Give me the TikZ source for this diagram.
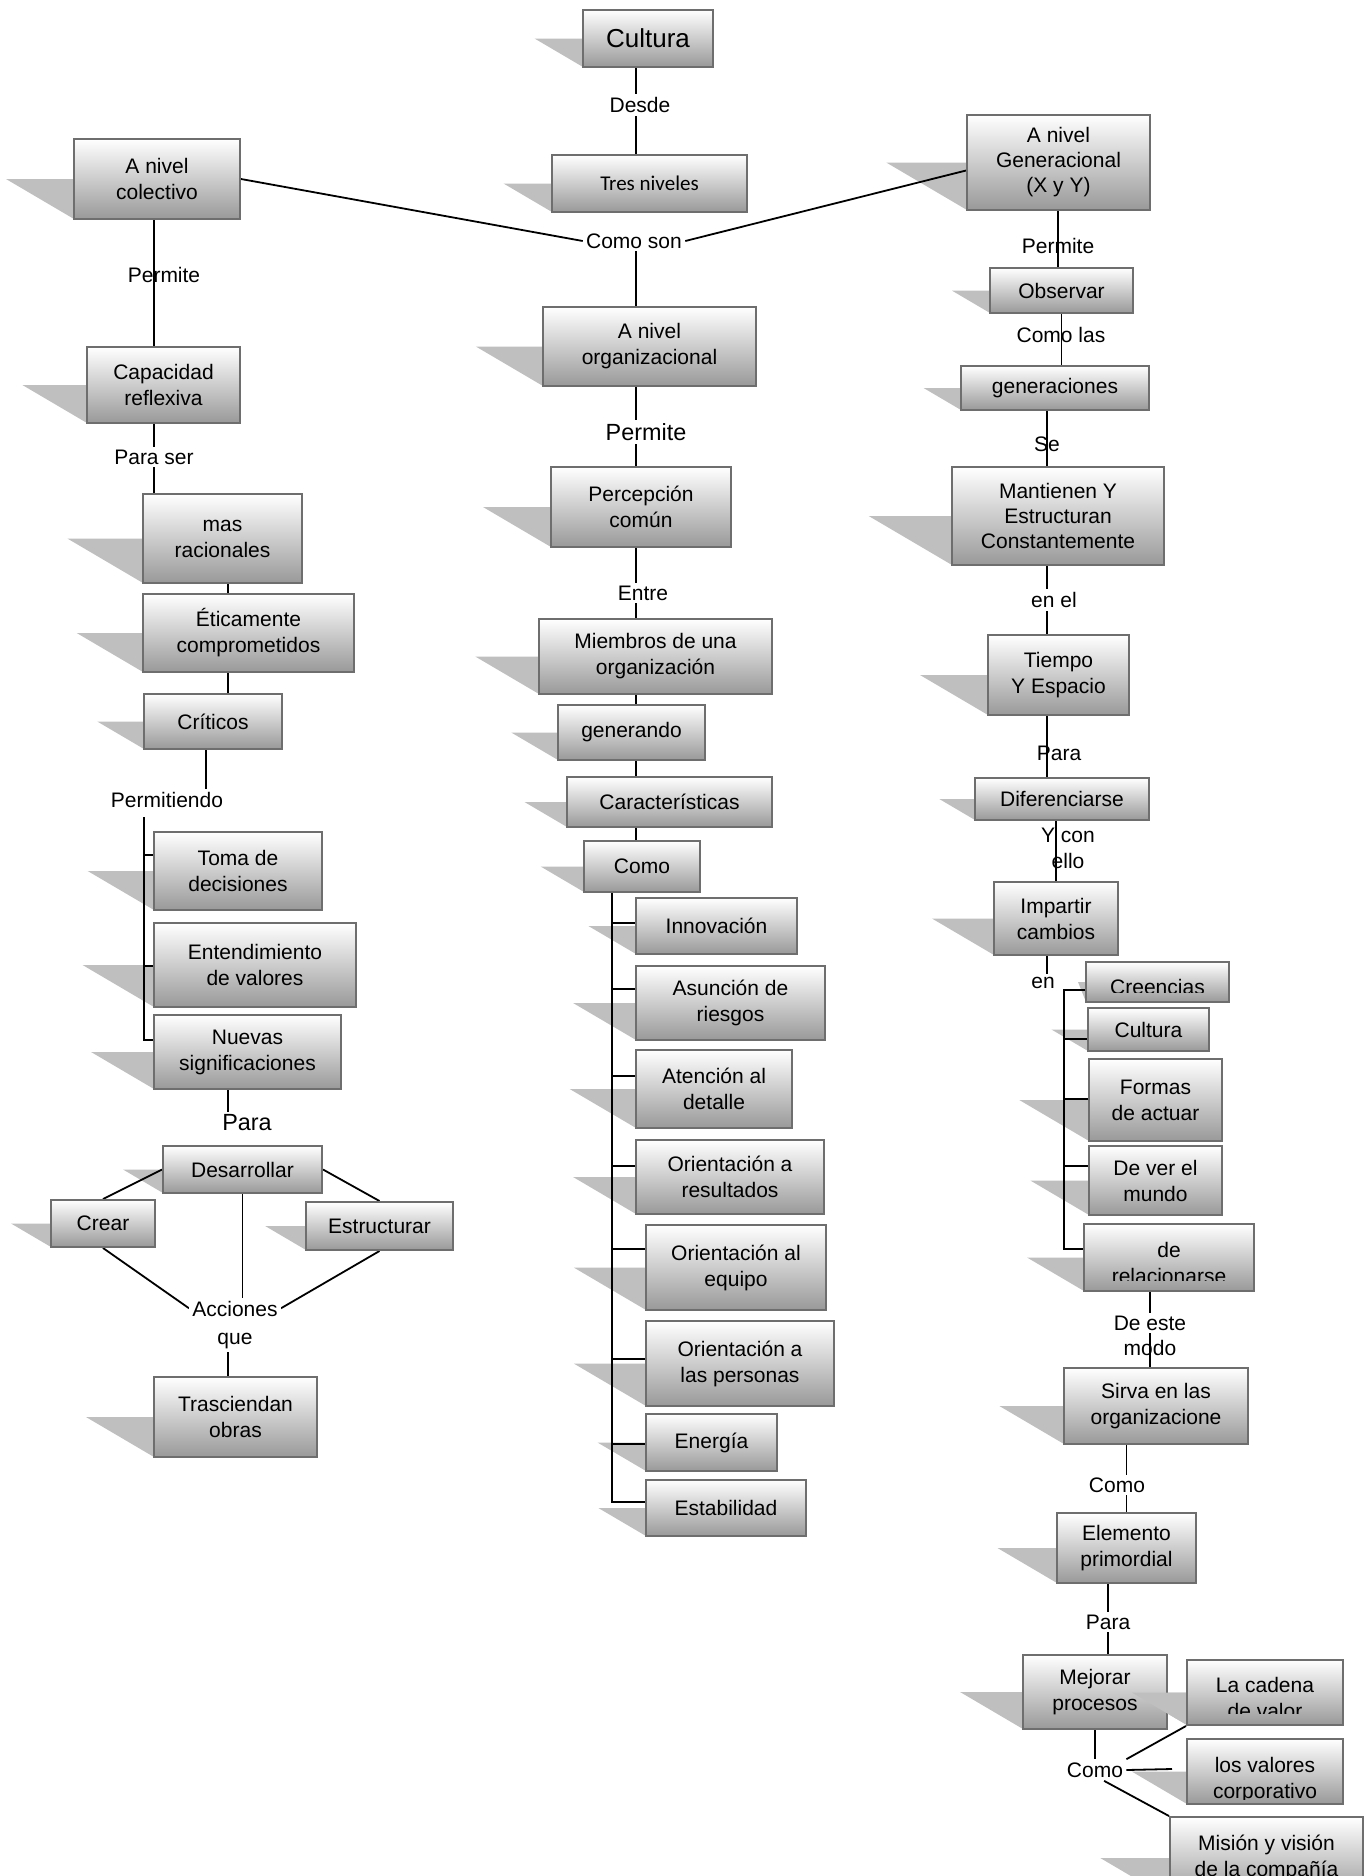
\documentclass[tikz,border=0pt]{standalone}
\usepackage{fontspec}
\setmainfont{Liberation Sans}
\newfontfamily\calfont{Carlito}
\pgfdeclarelayer{shd}
\pgfdeclarelayer{con}
\pgfsetlayers{shd,con,main}
\tikzset{
  box/.style={draw=black!57, line width=1pt, top color=white, bottom color=black!40,
    inner sep=1pt, align=center, font=\fontsize{10.5}{13}\selectfont, text=black},
  lbl/.style={inner sep=1.5pt, align=center, font=\fontsize{10.5}{13}\selectfont},
  lblw/.style={lbl, fill=white},
  con/.style={line width=0.9pt, black},
  shadowc/.style={fill=black!25},
}
\def\shfac{1.7}
% opts, name, x1, y1, x2, y2, text
\newcommand\bx[7]{%
  \begin{pgfonlayer}{shd}
  \fill[shadowc] (#3,{(#4+#6)/2}) -- (#3,#6) -- ({#3-\shfac*(#6-#4)/2},{(#4+#6)/2}) -- cycle;
  \end{pgfonlayer}
  \node[box,#1,minimum width={(#5-#3)*0.5pt},minimum height={(#6-#4)*0.5pt}] (#2) at ({(#3+#5)/2},{(#4+#6)/2}) {#7};}
% name, x1, y1, x2, y2, text, text shift, clip raise
\newcommand\cbx[8]{%
  \bx{}{#1}{#2}{#3}{#4}{#5}{}
  \begin{scope}
  \clip (#2,#3) rectangle (#4,{#5-#8});
  \node[lbl, inner sep=0pt] (#1-t) at ({(#2+#4)/2},{(#3+#5)/2+#7}) {#6};
  \end{scope}}
\begin{document}
\begin{tikzpicture}[x=0.5pt,y=-0.5pt]
\useasboundingbox (0,0) rectangle (1370,1876);
% ---------- center column
\bx{font=\fontsize{13}{15}\selectfont}{cultura}{583}{10}{713}{67}{Cultura}
\bx{font=\calfont\fontsize{10.5}{13}\selectfont}{tres}{552}{155}{747}{212}{Tres niveles}
\bx{}{org}{543}{307}{756}{386}{A nivel\\organizacional}
\bx{}{perc}{551}{467}{731}{547}{Percepción\\común}
\bx{}{miem}{539}{619}{772}{694}{Miembros de una\\organización}
\bx{}{gen}{558}{705}{705}{760}{generando}
\bx{}{car}{567}{777}{772}{827}{Características}
\bx{}{como}{584}{841}{700}{892}{Como}
\bx{}{innov}{636}{898}{797}{954}{Innovación}
\bx{}{asun}{636}{966}{825}{1040}{Asunción de\\riesgos}
\bx{}{aten}{636}{1050}{792}{1128}{Atención al\\detalle}
\bx{}{ores}{636}{1140}{824}{1214}{Orientación a\\resultados}
\bx{}{oeq}{646}{1225}{826}{1310}{Orientación al\\equipo}
\bx{}{oper}{646}{1321}{834}{1406}{Orientación a\\las personas}
\bx{}{ener}{646}{1414}{777}{1471}{Energía}
\bx{}{estab}{646}{1480}{806}{1536}{Estabilidad}
% ---------- left column
\bx{}{colec}{74}{139}{240}{219}{A nivel\\colectivo}
\bx{}{capac}{87}{347}{240}{423}{Capacidad\\reflexiva}
\bx{}{mas}{143}{494}{302}{583}{mas\\racionales}
\bx{}{etic}{143}{594}{354}{672}{Éticamente\\comprometidos}
\bx{}{crit}{144}{694}{282}{749}{Críticos}
\bx{}{toma}{154}{832}{322}{910}{Toma de\\decisiones}
\bx{}{ente}{154}{923}{356}{1007}{Entendimiento\\de valores}
\bx{}{nuev}{154}{1015}{341}{1089}{Nuevas\\significaciones}
\bx{}{desa}{163}{1146}{322}{1193}{Desarrollar}
\bx{}{crear}{51}{1200}{155}{1247}{Crear}
\bx{}{estr}{306}{1202}{453}{1250}{Estructurar}
\bx{}{tras}{154}{1377}{317}{1457}{Trasciendan\\obras}
% ---------- right column
\bx{font=\fontsize{10.5}{12.5}\selectfont}{genr}{967}{115}{1150}{210}{A nivel\\Generacional\\(X y Y)}
\bx{}{obs}{990}{268}{1133}{313}{Observar}
\bx{}{gene}{961}{366}{1149}{410}{generaciones}
\bx{font=\fontsize{10.5}{12.5}\selectfont}{mant}{952}{467}{1164}{565}{Mantienen Y\\Estructuran\\Constantemente}
\bx{}{tiem}{988}{635}{1129}{715}{Tiempo\\Y Espacio}
\bx{}{dife}{975}{778}{1149}{820}{Diferenciarse}
\bx{}{impa}{994}{882}{1118}{955}{Impartir\\cambios}
\def\shfac{0.4}
\cbx{cree}{1086}{962}{1229}{1002}{Creencias}{5}{10}
\def\shfac{1.7}
\bx{}{cult}{1088}{1008}{1209}{1051}{Cultura}
\bx{}{form}{1089}{1059}{1222}{1141}{Formas\\de actuar}
\bx{}{dever}{1089}{1146}{1222}{1215}{De ver el\\mundo}
\cbx{rela}{1084}{1224}{1254}{1291}{de\\relacionarse}{5}{11}
\bx{}{sirv}{1064}{1368}{1248}{1444}{Sirva en las\\organizacione}
\bx{}{elem}{1057}{1513}{1196}{1583}{Elemento\\primordial}
\bx{}{mejo}{1023}{1655}{1167}{1729}{Mejorar\\procesos}
\cbx{cade}{1187}{1660}{1343}{1725}{La cadena\\de valor}{5}{12}
\fill[shadowc] (1187,1692.5) -- (1187,1725) -- ({1187-1.7*32.5},1692.5) -- cycle;
\draw[draw=black!57, line width=1pt] (1187,1660) rectangle (1343,1725);
\cbx{valo}{1187}{1739}{1343}{1804}{los valores\\corporativo}{9}{5}
\bx{}{misi}{1170}{1817}{1363}{1899}{Misión y visión\\de la compañía}
% ---------- labels
\node[lblw] (desde) at (640,105) {Desde};
\node[lblw] (comoson) at (634,241) {Como son};
\node[lblw,font=\fontsize{11.7}{14}\selectfont] (permc) at (646,432) {Permite};
\node[lblw] (entre) at (643,593) {Entre};
\node[lbl] (perml) at (164,275) {Permite};
\node[lblw] (paraser) at (154,457) {Para ser};
\node[lblw] (permit) at (167,800) {Permitiendo};
\node[lblw,font=\fontsize{11.7}{14}\selectfont] (paral) at (247,1123) {Para};
\node[lblw,font=\fontsize{10.5}{14}\selectfont] (acci) at (235,1325) {Acciones\\que};
\node[lbl] (permr) at (1058,246) {Permite};
\node[lbl] (comolas) at (1061,335) {Como las};
\node[lbl] (se) at (1047,444) {Se};
\node[lblw] (enel) at (1054,600) {en el};
\node[lbl] (parar) at (1059,753) {Para};
\node[lbl] (ycon) at (1068,848) {Y con\\ello};
\node[lblw] (en) at (1043,983) {en};
\node[lblw] (deeste) at (1150,1323) {De este};
\node[lbl] (modo) at (1150,1348) {modo};
\node[lblw] (comor) at (1117,1485) {Como};
\node[lblw] (parab) at (1108,1622) {Para};
\node[lblw] (comob) at (1095,1770) {Como};
% ---------- helper coordinates
\coordinate (cx) at (636,0);
\coordinate (lx) at (228,0);
\coordinate (lx3) at (206,0);
\coordinate (ctr) at (612,892);
\coordinate (cb1) at (612,923);
\coordinate (cb2) at (612,989);
\coordinate (cb3) at (612,1076);
\coordinate (cb4) at (612,1166);
\coordinate (cb5) at (612,1249);
\coordinate (cb6) at (612,1359);
\coordinate (cb7) at (612,1444);
\coordinate (cb8) at (612,1502);
\coordinate (ltr) at (144,817);
\coordinate (lb1) at (144,855);
\coordinate (lb2) at (144,966);
\coordinate (lb3) at (144,1040);
\coordinate (rt1) at (1064,990);
\coordinate (rt2) at (1064,1039);
\coordinate (rt3) at (1064,1099);
\coordinate (rt4) at (1064,1166);
\coordinate (rt5) at (1064,1249);
\coordinate (vend) at (1172,1769);
% ---------- connectors
\begin{pgfonlayer}{con}
\draw[con] (cx |- cultura.south) -- (cx |- tres.north);
\draw[con] (colec.east) -- (comoson.west);
\draw[con] (comoson.east) -- ([yshift=-4pt]genr.west);
\draw[con] (cx |- comoson) -- (cx |- org.north);
\draw[con] (cx |- org.south) -- (cx |- perc.north);
\draw[con] (cx |- perc.south) -- (cx |- miem.north);
\draw[con] (cx |- miem.south) -- (cx |- gen.north);
\draw[con] (cx |- gen.south) -- (cx |- car.north);
\draw[con] (cx |- car.south) -- (cx |- como.north);
\draw[con] (ctr) -- (cb8) -- (estab.west |- cb8);
\draw[con] (cb1) -- (innov.west |- cb1);
\draw[con] (cb2) -- (asun.west |- cb2);
\draw[con] (cb3) -- (aten.west |- cb3);
\draw[con] (cb4) -- (ores.west |- cb4);
\draw[con] (cb5) -- (oeq.west |- cb5);
\draw[con] (cb6) -- (oper.west |- cb6);
\draw[con] (cb7) -- (ener.west |- cb7);
% left
\draw[con] (paraser |- colec.south) -- (paraser |- capac.north);
\draw[con] (paraser |- capac.south) -- (paraser |- mas.north);
\draw[con] (lx |- mas.south) -- (lx |- etic.north);
\draw[con] (lx |- etic.south) -- (lx |- crit.north);
\draw[con] (lx3 |- crit.south) -- (lx3 |- permit);
\draw[con] (ltr) -- (lb3) -- (nuev.west |- lb3);
\draw[con] (lb1) -- (toma.west |- lb1);
\draw[con] (lb2) -- (ente.west |- lb2);
\draw[con] (lx |- nuev.south) -- (lx |- paral);
\draw[con] (desa.west) -- (crear.north);
\draw[con] (desa.east) -- (estr.north);
\draw[con] (crear.south) -- (acci.160);
\draw[con] (estr.south) -- (acci.20);
\draw[con] (desa.south) -- (desa.south |- acci.north);
\draw[con] (lx |- acci) -- (lx |- tras.north);
% right
\draw[con] (permr |- genr.south) -- (permr |- obs.north);
\draw[con] (obs.south) -- (obs.south |- gene.north);
\draw[con] (se |- gene.south) -- (se |- mant.north);
\draw[con] (se |- mant.south) -- (se |- tiem.north);
\draw[con] (se |- tiem.south) -- (se |- dife.north);
\draw[con] (impa.north) -- (impa.north |- dife.south);
\draw[con] (se |- impa.south) -- (se |- en);
\draw[con] (cree.west |- rt1) -- (rt1) -- (rt5) -- (rela.west |- rt5);
\draw[con] (rt2) -- (cult.west |- rt2);
\draw[con] (rt3) -- (form.west |- rt3);
\draw[con] (rt4) -- (dever.west |- rt4);
\draw[con] (deeste |- rela.south) -- (deeste |- sirv.north);
\draw[con] (elem.north |- sirv.south) -- (elem.north);
\draw[con] (parab |- elem.south) -- (parab |- mejo.north);
\draw[con] (comob |- mejo.south) -- (comob);
\draw[con] (comob.north east) -- (cade.south west);
\draw[con] (comob.east) -- (vend);
\draw[con] (comob.-50) -- (misi.north west);
\end{pgfonlayer}
\end{tikzpicture}
\end{document}
